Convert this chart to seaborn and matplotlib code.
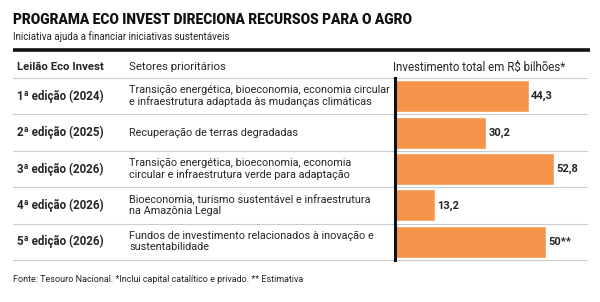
import matplotlib
matplotlib.use("Agg")
import matplotlib.pyplot as plt
import seaborn as sns
import pandas as pd

edicoes = ["1ª edição (2024)", "2ª edição (2025)", "3ª edição (2026)",
           "4ª edição (2026)", "5ª edição (2026)"]
setores = [
    "Transição energética, bioeconomia, economia circular\ne infraestrutura adaptada às mudanças climáticas",
    "Recuperação de terras degradadas",
    "Transição energética, bioeconomia, economia\ncircular e infraestrutura verde para adaptação",
    "Bioeconomia, turismo sustentável e infraestrutura\nna Amazônia Legal",
    "Fundos de investimento relacionados à inovação e\nsustentabilidade",
]
investimento = [44.3, 30.2, 52.8, 13.2, 50.0]
rotulos = ["44,3", "30,2", "52,8", "13,2", "50**"]

df = pd.DataFrame({"edicao": edicoes, "valor": investimento})

sns.set_theme(style="white")
plt.rcParams["font.family"] = ["Roboto", "DejaVu Sans"]

W, H = 600, 302
fig = plt.figure(figsize=(W / 100, H / 100), dpi=100)

# background axes in pixel coords for the table text and rules
bg = fig.add_axes([0, 0, 1, 1])
bg.set_xlim(0, W)
bg.set_ylim(H, 0)
bg.axis("off")

bg.text(13, 20, "PROGRAMA ECO INVEST DIRECIONA RECURSOS PARA O AGRO",
        fontsize=9.9, fontweight="black", va="center", ha="left", color="#111111")
bg.text(13, 37, "Iniciativa ajuda a financiar iniciativas sustentáveis",
        fontsize=7.0, va="center", ha="left", color="#222222")
bg.plot([13, 590], [50, 50], color="#111111", lw=2.6, solid_capstyle="butt")

bg.text(17, 67, "Leilão Eco Invest", fontsize=8.2, fontweight="bold", va="center")
bg.text(129, 67, "Setores prioritários", fontsize=8.2, va="center")
bg.text(393, 67, "Investimento total em R$ bilhões*", fontsize=8.3, va="center")

top, rowh = 78, 36.4
for i in range(6):
    y = top + i * rowh
    bg.plot([13, 587], [y, y], color="#cccccc", lw=0.8)

for i, (ed, st) in enumerate(zip(edicoes, setores)):
    yc = top + (i + 0.5) * rowh
    bg.text(17, yc, ed, fontsize=8.3, fontweight="bold", va="center")
    bg.text(129, yc, st, fontsize=7.8, va="center", linespacing=1.1)

bg.text(13, 279, "Fonte: Tesouro Nacional. *Inclui capital catalítico e privado. ** Estimativa",
        fontsize=6.5, va="center", color="#222222")

# bar axes
x0, x1 = 395, 587
ax = fig.add_axes([x0 / W, 1 - (top + 5 * rowh) / H, (x1 - x0) / W, 5 * rowh / H])
sns.barplot(data=df, x="valor", y="edicao", orient="h", color="#F5944A",
            saturation=1, width=0.88, ax=ax)
ax.set_xlim(0, (x1 - x0) / 3.02)
ax.set_ylim(4.5, -0.5)
ax.set_xlabel("")
ax.set_ylabel("")
ax.set_xticks([])
ax.set_yticks([])
for s in ["top", "right", "bottom"]:
    ax.spines[s].set_visible(False)
ax.spines["left"].set_color("#111111")
ax.spines["left"].set_linewidth(2.2)
ax.patch.set_alpha(0)
for i, (v, lab) in enumerate(zip(investimento, rotulos)):
    ax.text(v + 0.7, i, lab, fontsize=8, fontweight="bold", va="center", ha="left")

fig.savefig("out.png", dpi=100)
